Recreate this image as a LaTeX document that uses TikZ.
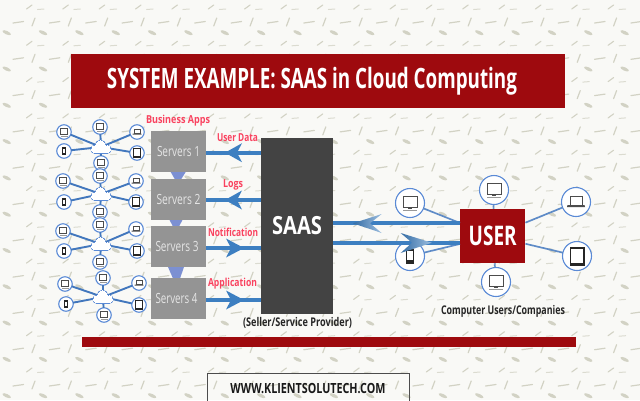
\documentclass[tikz,border=0pt]{standalone}
\usepackage{graphicx}
\usepackage{fontspec}
\setmainfont{Open Sans}
\definecolor{bgc}{HTML}{F9F9F6}
\definecolor{spk}{HTML}{D2D2C4}
\definecolor{brick}{HTML}{9E0A0E}
\definecolor{arrowblue}{HTML}{3D7FC1}
\definecolor{ringblue}{HTML}{5A8AD6}
\definecolor{linkblue}{HTML}{4277BD}
\definecolor{srvgrey}{HTML}{949494}
\definecolor{saasgrey}{HTML}{434343}
\definecolor{pinkred}{HTML}{F9425F}
\definecolor{peri}{HTML}{7C90D2}
\newcommand{\fittext}[3]{\resizebox{#1pt}{\height}{\fontsize{#2pt}{#2pt}\selectfont #3}}
\newcommand{\devnode}[6]{%
  \node[devcircle,minimum size=#4pt] (#1) at (#2,#3) {};
  \pic[scale=#6] at (#1) {#5};}
\newcommand{\headL}[2]{\fill[arrowblue] (#1,#2) -- (#1+17,#2-9.5) -- (#1+12,#2) -- (#1+17,#2+9.5) -- cycle;}
\newcommand{\headR}[2]{\fill[arrowblue] (#1,#2) -- (#1-18,#2-9.5) -- (#1-13,#2) -- (#1-18,#2+9.5) -- cycle;}
\tikzset{
  devcircle/.style={circle,draw=ringblue,fill=white,line width=\ringlw,inner sep=0pt,outer sep=0pt},
  srvbox/.style={rectangle,fill=srvgrey,text=white!90!black,minimum width=55pt,minimum height=41pt,inner sep=0pt,outer sep=0pt},
  plink/.style={text=pinkred,inner sep=0pt,outer sep=0pt},
  captxt/.style={text=black!85,inner sep=0pt,outer sep=0pt},
  smalllink/.style={draw=linkblue,line width=1.9pt},
  biglink/.style={draw=linkblue!85,line width=1.7pt,dash pattern=on 1.2pt off 0.3pt},
  flow/.style={draw=arrowblue,line width=3.8pt},
  hub/.style={circle,inner sep=0pt,outer sep=0pt,minimum size=1pt},
  pics/devmon/.style={code={
    \draw[black!70,line width=\iconlw,fill=white] (-7,-7) rectangle (7,4);
    \fill[black!70] (-2,4) rectangle (2,6);
    \fill[black!40] (-7,7) rectangle (7,8);}},
  pics/devlap/.style={code={
    \draw[black!70,line width=\iconlw,fill=white] (-6,-6) rectangle (6,3);
    \fill[black!70] (-8.5,3) -- (8.5,3) -- (9,5) -- (-9,5) -- cycle;}},
  pics/devphone/.style={code={
    \fill[black!85] (-3.8,-7.5) rectangle (3.8,7.5);
    \fill[white] (-2.6,-5) rectangle (2.6,4);}},
  pics/devtab/.style={code={
    \fill[black!85] (-7.5,-9.5) rectangle (7.5,9.5);
    \fill[white] (-5.8,-7.5) rectangle (5.8,6.5);}},
  pics/devcloud/.style={code={
    \foreach \w/\k in {2.2pt/ringblue,0pt/white}{
      \path[draw=\k,fill=\k,line width=\w] (-6,2.3) circle (3.4);
      \path[draw=\k,fill=\k,line width=\w] (-0.5,-1.5) circle (4.6);
      \path[draw=\k,fill=\k,line width=\w] (6,2.3) circle (3.4);
      \path[draw=\k,fill=\k,line width=\w] (-6,1) rectangle (6,5.7);
    }}},
}
\begin{document}
\begin{tikzpicture}[x=1pt,y=-1pt]
\useasboundingbox (0,0) rectangle (640,400);
\fill[bgc] (0,0) rectangle (640,400);
% speckled paper texture
\foreach \r in {0,...,11}{
  \foreach \c in {0,...,18}{
    \begin{scope}[shift={(36.35*\c,36.3*\r-3)}]
      \fill[spk,rotate around={-25:(6.7,35.7)}] (6.7,35.7) ellipse (4.6 and 1.7);
      \draw[spk,line width=1.1pt,line cap=round] (26.5,12) -- (32,8);
      \draw[spk!80,line width=1pt,line cap=round] (37.5,12.5) -- (44,12);
      \draw[spk,line width=1.2pt,line cap=round] (13,26) -- (23.5,24.5);
      \draw[spk,line width=1.2pt,line cap=round] (32,29) -- (35,21);
    \end{scope}
  }
}
% title banner
\node[fill=brick,minimum width=494pt,minimum height=54pt,inner sep=0pt,outer sep=0pt,text=white] (title) at (318,81)
  {\fittext{410}{28}{\bfseries SYSTEM EXAMPLE: SAAS in Cloud Computing}\rule{12pt}{0pt}};
% triangles between servers
\fill[peri] (170.7,172) -- (185.7,172) -- (181,179.5) -- (175,179.5) -- cycle;
\fill[peri] (169,219) -- (183,219) -- (179,226.5) -- (173,226.5) -- cycle;
\fill[peri] (168,267) -- (184,267) -- (180,278.5) -- (173,278.5) -- cycle;
% servers
\node[srvbox] (s1) at (178.5,151.5) {\fittext{43}{14}{Servers 1}};
\node[srvbox] (s2) at (178.5,199) {\fittext{44}{14}{Servers 2}};
\node[srvbox] (s3) at (178.5,246.5) {\fittext{43}{14}{Servers 3}\rule{3pt}{0pt}};
\node[srvbox] (s4) at (178.5,298.5) {\fittext{42}{14}{Servers 4}\rule{4pt}{0pt}};
% SAAS
\node[fill=saasgrey,text=white,minimum width=72pt,minimum height=176pt,inner sep=0pt,outer sep=0pt] (saas) at (297,226)
  {\fittext{50}{25}{\bfseries SAAS}};
% server flows
\draw[flow] ([yshift=-1.2pt]s1.east) -- ([yshift=-1.2pt]s1.east -| saas.west);
\draw[flow] ([yshift=-1pt]s2.east) -- ([yshift=-1pt]s2.east -| saas.west);
\draw[flow] ([yshift=-1.5pt]s3.east) -- ([yshift=-1.5pt]s3.east -| saas.west);
\draw[flow] ([yshift=-1.5pt]s4.east) -- ([yshift=-1.5pt]s4.east -| saas.west);
\headL{225}{152.7}
\headL{225}{200}
\headR{244}{248}
\headR{244}{300}
% labels
\node[plink] (l0) at (178,121) {\fittext{64}{11}{\bfseries Business Apps}};
\node[plink] (l1) at (237.5,138) {\fittext{41}{11}{\bfseries User Data}};
\node[plink] (l2) at (233,185) {\fittext{20}{11}{\bfseries Logs}};
\node[plink] (l3) at (233,232) {\fittext{50}{11}{\bfseries Notification}};
\node[plink] (l4) at (232.5,284) {\fittext{49}{11}{\bfseries Application}};
\node[captxt] (c1) at (297.5,323) {\fittext{109}{12}{\bfseries (Seller/Service Provider)}};
\node[captxt] (c2) at (503,311) {\fittext{124}{12}{\bfseries Computer Users/Companies}};
% network clusters on the left
\def\iconlw{0.5pt}
\def\ringlw{1.1pt}
\foreach \i/\cx/\cy/\tx/\ty/\bx/\by/\ax/\ay/\dx/\dy/\ex/\ey/\fx/\fy in {
  a/101/147/100/127/101/163/64/132/64/151/137/132/137/153,
  b/101/194/100/176/100/212/63/181/64/202/136/181/136/202,
  c/101/244/100/225/100/262/63/231/64/251/136/229/137/251,
  d/103/297/103/278/104/315/65/284/66/304/139/283/139/305}{
  \node[hub] (cl\i) at (\cx,\cy) {};
  \devnode{t\i}{\tx}{\ty}{14.5}{devmon}{0.5}
  \devnode{u\i}{\bx}{\by}{14.5}{devmon}{0.5}
  \devnode{v\i}{\ax}{\ay}{14.5}{devmon}{0.5}
  \devnode{w\i}{\dx}{\dy}{14.5}{devphone}{0.5}
  \devnode{x\i}{\ex}{\ey}{14.5}{devlap}{0.5}
  \devnode{z\i}{\fx}{\fy}{14.5}{devtab}{0.5}
  \foreach \n in {t,u,v,w,x,z}{
    \draw[smalllink] (cl\i) -- (\n\i);
  }
  \pic at (cl\i) {devcloud};
}
% user side
\def\iconlw{0.9pt}
\def\ringlw{1.1pt}
\devnode{ulm}{410}{203}{29}{devmon}{1}
\devnode{ulp}{410}{256}{29}{devphone}{1}
\devnode{utm}{494}{190}{29}{devmon}{1}
\devnode{ubm}{496}{282}{29}{devmon}{1}
\devnode{url}{576}{202}{29}{devlap}{1}
\devnode{urt}{577}{256}{29}{devtab}{1}
\node[fill=brick,text=white,minimum width=65.5pt,minimum height=54.5pt,inner sep=0pt,outer sep=0pt] (user) at (492.7,236)
  {\fittext{48}{27}{\bfseries USER}};
\foreach \n in {ulm,ulp,utm,ubm,url,urt}{
  \draw[biglink] (user) -- (\n);
}
\coordinate (ya) at (400,223.3);
\coordinate (yb) at (400,242.7);
\draw[flow] (user.west |- ya) -- (saas.east |- ya);
\draw[flow] (saas.east |- yb) -- (user.west |- yb);
\shade[left color=arrowblue!85!black,right color=arrowblue!50] (353,223.3) -- (381.7,214) -- (370,223.3) -- (381.7,233) -- cycle;
\shade[left color=arrowblue!85!black,right color=arrowblue!50] (431.7,242.7) -- (400.7,233) -- (412,242.7) -- (400.7,253) -- cycle;
% bottom bar and address box
\node[fill=brick,minimum width=494pt,minimum height=10pt,inner sep=0pt,outer sep=0pt] (bar) at (329,342) {};
\node[draw=black!70,line width=0.9pt,minimum width=202pt,minimum height=32pt,inner sep=0pt,outer sep=0pt,text=black!90] (web) at (308,389)
  {\fittext{155}{14}{\bfseries WWW.KLIENTSOLUTECH.COM}};
\end{tikzpicture}
\end{document}
